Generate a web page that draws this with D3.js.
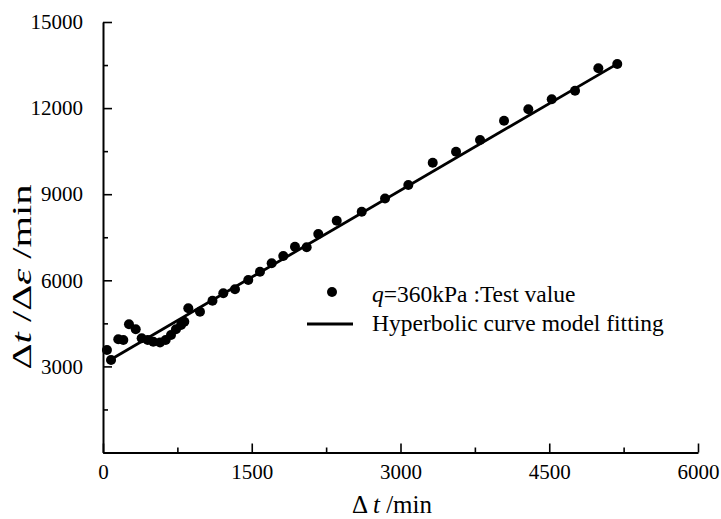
<!DOCTYPE html>
<html><head><meta charset="utf-8">
<script src="https://cdn.jsdelivr.net/npm/d3@7"></script>
<style>
body{margin:0;background:#fff}
text{font-family:"Liberation Serif","Times New Roman",serif;fill:#000}
</style>
</head><body>
<svg id="chart" width="721" height="519"></svg>
<script>
// ---- data ----
const deltaT = [40, 81, 154, 205, 262, 330, 390, 451, 507, 575, 632, 686, 736, 787, 820, 860, 978, 1104, 1213, 1331, 1465, 1583, 1701, 1818, 1936, 2054, 2171, 2357, 2609, 2844, 3079, 3325, 3560, 3802, 4044, 4289, 4525, 4760, 4995, 5186];
const ratio  = [3571, 3223, 3944, 3920, 4466, 4292, 3979, 3920, 3861, 3830, 3920, 4094, 4292, 4443, 4557, 5024, 4906, 5290, 5547, 5686, 6010, 6299, 6592, 6846, 7170, 7149, 7612, 8076, 8390, 8850, 9320, 10097, 10481, 10888, 11561, 11957, 12306, 12606, 13386, 13535];
// hyperbolic model in linear form: Δt/Δε = a + b·Δt
const fitA = 3082;
const fitB = 2.017;
const xTicks = [0, 1500, 3000, 4500, 6000];
const xMinor = [750, 2250, 3750, 5250];
const yTicks = [0, 3000, 6000, 9000, 12000, 15000];
const yMinor = [1500, 4500, 7500, 10500, 13500];
const legendPoint = ["q", "=360kPa :Test value"];
const legendLine = "Hyperbolic curve model fitting";

// ---- layout ----
const W = 721, H = 519;
const m = {left: 103, top: 22, right: 23, bottom: 66.5};
const iw = W - m.left - m.right, ih = H - m.top - m.bottom;
const svg = d3.select("#chart");
const g = svg.append("g").attr("transform", `translate(${m.left},${m.top})`);

const x = d3.scaleLinear().domain([0, 6000]).range([0, iw]);
const y = d3.scaleLinear().domain([0, 15000]).range([ih, 0]);

// minor ticks
g.append("g").attr("transform", `translate(0,${ih})`)
  .call(d3.axisBottom(x).tickValues(xMinor).tickSize(-5).tickFormat(""))
  .call(a => a.select(".domain").remove());
g.append("g")
  .call(d3.axisLeft(y).tickValues(yMinor).tickSize(-5).tickFormat(""))
  .call(a => a.select(".domain").remove());

// major axes
const xa = g.append("g").attr("transform", `translate(0,${ih})`)
  .call(d3.axisBottom(x).tickValues(xTicks).tickSizeInner(-9).tickSizeOuter(0).tickPadding(12).tickFormat(d3.format("d")));
const ya = g.append("g")
  .call(d3.axisLeft(y).tickValues(yTicks).tickSizeInner(-9).tickSizeOuter(0).tickPadding(20).tickFormat(d => d === 0 ? "" : d3.format("d")(d)));
[xa, ya].forEach(a => {
  a.selectAll("text").style("font-size", "21px").style("font-family", '"Liberation Serif",serif');
});
g.selectAll(".domain").attr("stroke", "#000").attr("stroke-width", 2);
g.selectAll(".tick line").attr("stroke", "#000").attr("stroke-width", 1.6);

// fit line
const xs = d3.extent(deltaT);
g.append("line")
  .attr("x1", x(xs[0])).attr("y1", y(fitA + fitB * xs[0]))
  .attr("x2", x(xs[1])).attr("y2", y(fitA + fitB * xs[1]))
  .attr("stroke", "#000").attr("stroke-width", 2.8);

// points
g.selectAll("circle.pt").data(deltaT).join("circle")
  .attr("class", "pt")
  .attr("cx", d => x(d))
  .attr("cy", (d, i) => y(ratio[i]))
  .attr("r", 5).attr("fill", "#000");

// axis titles
const xt = svg.append("text")
  .attr("x", 392).attr("y", 513).attr("text-anchor", "middle")
  .style("font-size", "25px");
xt.append("tspan").text("\u0394 ");
xt.append("tspan").style("font-style", "italic").text("t");
xt.append("tspan").text(" /min");

const yt = svg.append("text")
  .attr("transform", "translate(31,277) rotate(-90)")
  .attr("text-anchor", "middle")
  .attr("textLength", 185).attr("lengthAdjust", "spacingAndGlyphs")
  .style("font-size", "27px");
yt.append("tspan").text("\u0394");
yt.append("tspan").style("font-style", "italic").text("t");
yt.append("tspan").text(" /\u0394");
yt.append("tspan").style("font-style", "italic").text("\u03b5");
yt.append("tspan").text(" /min");

// legend
const lg = svg.append("g");
lg.append("circle").attr("cx", 332).attr("cy", 292).attr("r", 5).attr("fill", "#000");
const l1 = lg.append("text").attr("x", 372).attr("y", 301.5).style("font-size", "23.5px");
l1.append("tspan").style("font-style", "italic").text(legendPoint[0]);
l1.append("tspan").text(legendPoint[1]);
lg.append("line").attr("x1", 307).attr("x2", 353).attr("y1", 324).attr("y2", 324)
  .attr("stroke", "#000").attr("stroke-width", 2.8);
lg.append("text").attr("x", 372).attr("y", 330.5).style("font-size", "23.5px").text(legendLine);
</script>
</body></html>
